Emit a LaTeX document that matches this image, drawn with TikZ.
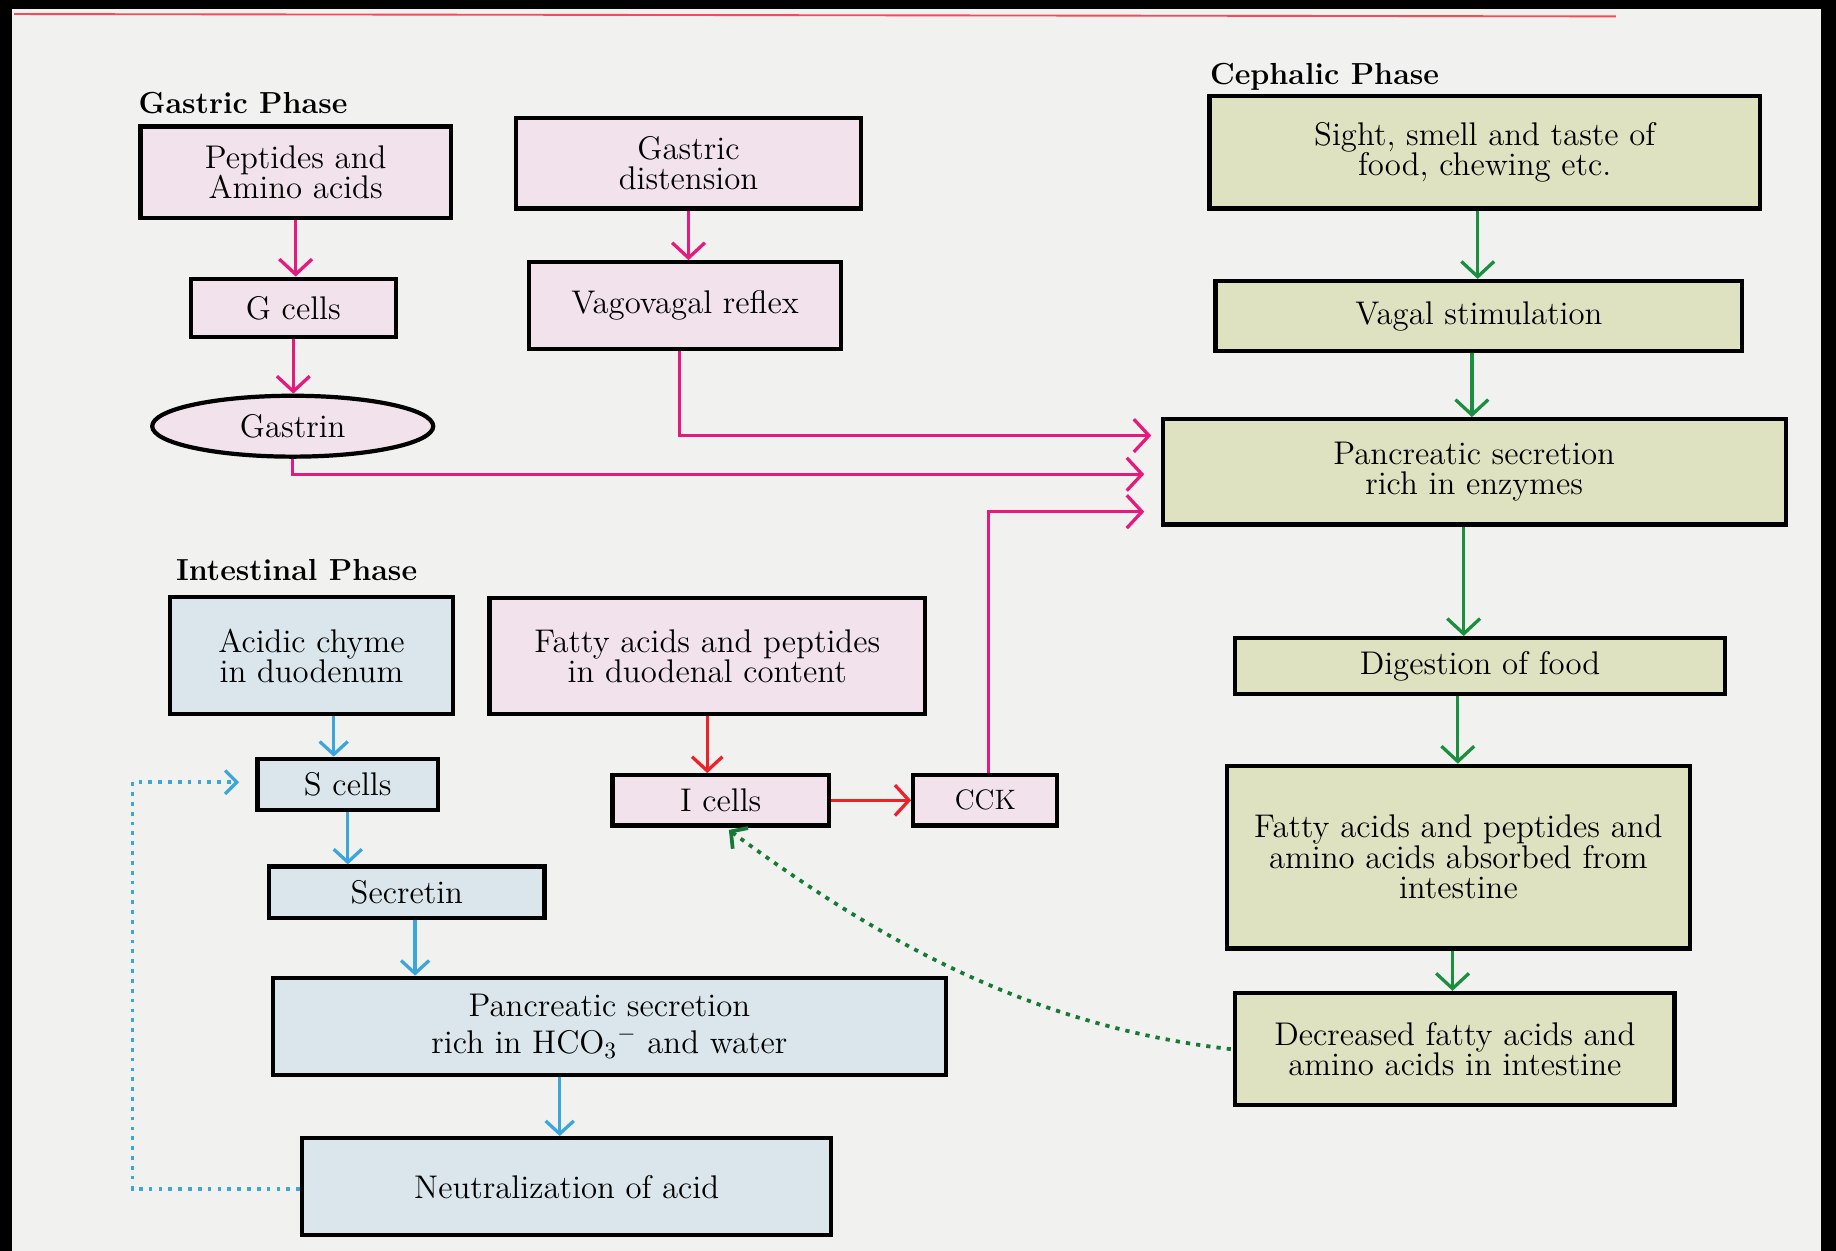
\documentclass[tikz,border=0pt]{standalone}
\usetikzlibrary{arrows.meta,calc,shapes.geometric}
\definecolor{pinkfill}{HTML}{F1E2EB}
\definecolor{greenfill}{HTML}{DFE2C0}
\definecolor{bluefill}{HTML}{DAE6EC}
\definecolor{pinkline}{HTML}{E8197D}
\definecolor{greenline}{HTML}{1A8F40}
\definecolor{blueline}{HTML}{3AA6DC}
\definecolor{redline}{HTML}{F0202A}
\definecolor{paper}{HTML}{F1F1F0}
\tikzset{
  box/.style={draw=black, line width=1.8pt, inner sep=2pt, align=center,
    font=\fontsize{14}{13}\selectfont},
  pinkbox/.style={box, fill=pinkfill},
  greenbox/.style={box, fill=greenfill},
  bluebox/.style={box, fill=bluefill},
  phase/.style={font=\fontsize{13}{13}\selectfont\bfseries, anchor=west, inner sep=0pt},
  parr/.style={draw=pinkline, line width=1.4pt, -{Straight Barb[length=6.5pt,width=14pt]}},
  garr/.style={draw=greenline, line width=1.4pt, -{Straight Barb[length=6.5pt,width=14pt]}},
  barr/.style={draw=blueline, line width=1.4pt, -{Straight Barb[length=5.5pt,width=12pt]}},
  rarr/.style={draw=redline, line width=1.4pt, -{Straight Barb[length=6pt,width=13pt]}},
  bdot/.style={draw=blueline, line width=1.5pt, dash pattern=on 1.6pt off 2.6pt,
    -{Straight Barb[length=5pt,width=10pt,line width=1.4pt,sep=0pt]}},
  gdot/.style={draw=greenline!85!black, line width=1.6pt, dash pattern=on 1.8pt off 2.6pt,
    -{Straight Barb[length=5pt,width=11pt,line width=1.6pt]}},
}
\begin{document}
\begin{tikzpicture}[x=0.5pt,y=-0.5pt]
\useasboundingbox (0,0) rectangle (1568,1068);
% paper and frame
\fill[paper] (0,0) rectangle (1568,1068);
\fill[black] (0,0) rectangle (1568,8);
\fill[black] (0,0) rectangle (10,1068);
\fill[black] (1555,0) rectangle (1568,1068);
\draw[redline!80, line width=0.8pt] (12,12) -- (1380,14);

% phase labels
\node[phase] (lgastric) at (118,88) {Gastric Phase};
\node[phase] (lceph) at (1033,66) {Cephalic Phase};
\node[phase] (lint) at (150,487) {Intestinal Phase};

% gastric phase
\node[pinkbox, minimum width=132.5pt, minimum height=39pt] (pep) at (252.5,147) {Peptides and\\Amino acids};
\node[pinkbox, minimum width=147pt, minimum height=38.5pt] (gdist) at (588,139.5) {Gastric\\distension};
\node[pinkbox, minimum width=87.5pt, minimum height=25pt] (gcells) at (250.5,263) {G cells};
\node[pinkbox, minimum width=133pt, minimum height=37pt] (vago) at (585,261) {Vagovagal reflex};
\node[box, ellipse, fill=pinkfill, minimum width=120pt, minimum height=26pt, inner sep=0pt] (gastrin) at (250,364) {Gastrin};

% cephalic phase
\node[greenbox, minimum width=235pt, minimum height=48pt] (sight) at (1268,130) {Sight, smell and taste of\\food, chewing etc.};
\node[greenbox, minimum width=225pt, minimum height=30pt] (vagal) at (1263,270) {Vagal stimulation};
\node[greenbox, minimum width=266pt, minimum height=45pt] (panc) at (1259,403) {Pancreatic secretion\\rich in enzymes};
\node[greenbox, minimum width=209pt, minimum height=24pt] (digest) at (1264,569) {Digestion of food};
\node[greenbox, minimum width=197.5pt, minimum height=78pt] (absorb) at (1245.5,732) {Fatty acids and peptides and\\amino acids absorbed from\\intestine};
\node[greenbox, minimum width=187.5pt, minimum height=48pt] (decr) at (1242.5,896) {Decreased fatty acids and\\amino acids in intestine};

% intestinal phase
\node[bluebox, minimum width=121pt, minimum height=50pt] (acidic) at (266,560) {Acidic chyme\\in duodenum};
\node[pinkbox, minimum width=186pt, minimum height=49.5pt] (fattyduo) at (604,560.5) {Fatty acids and peptides\\in duodenal content};
\node[bluebox, minimum width=77pt, minimum height=22pt] (scells) at (297,670) {S cells};
\node[pinkbox, minimum width=92.5pt, minimum height=21.5pt] (icells) at (615.5,683.5) {I cells};
\node[pinkbox, minimum width=61.5pt, minimum height=21.5pt, font=\fontsize{12}{12}\selectfont] (cck) at (841.5,683.5) {CCK};
\node[bluebox, minimum width=117.5pt, minimum height=22pt] (secretin) at (347.5,762) {Secretin};
\node[bluebox, minimum width=287.5pt, minimum height=41.5pt, font=\fontsize{14}{15.5}\selectfont] (hco) at (520.5,876.5) {Pancreatic secretion\\rich in HCO$_3{}^{-}$ and water};
\node[bluebox, minimum width=226pt, minimum height=41.5pt] (neut) at (484,1013.5) {Neutralization of acid};

% start points of vertical connectors
\coordinate (c1) at ($(sight.south)+(-6,0)$);
\coordinate (c2) at ($(vagal.south)+(-6,0)$);
\coordinate (c3) at ($(panc.south)+(-9,0)$);
\coordinate (c4) at ($(digest.south)+(-19,0)$);
\coordinate (c5) at ($(absorb.south)+(-5,0)$);
\coordinate (c6) at ($(acidic.south)+(19,0)$);
\coordinate (c7) at ($(secretin.south)+(7,0)$);
\coordinate (c8) at ($(neut.north)+(-6,0)$);
\coordinate (c9) at ($(vago.south)+(-5,0)$);
\coordinate (c10) at ($(cck.north)+(3,0)$);

% gastric arrows
\draw[parr] (pep.south) -- (pep.south |- gcells.north);
\draw[parr] (gcells.south) -- (gcells.south |- gastrin.north);
\draw[parr] (gdist.south) -- (gdist.south |- vago.north);
\draw[parr, shorten >=4pt] (c9) |- ($(panc.west)+(0,-31)$);
\draw[parr, shorten >=7pt] (gastrin.south) |- ($(panc.west)+(0,2)$);
\draw[parr, shorten >=7pt] (c10) |- ($(panc.west)+(0,34)$);

% cephalic arrows
\draw[garr] (c1) -- (c1 |- vagal.north);
\draw[garr] (c2) -- (c2 |- panc.north);
\draw[garr] (c3) -- (c3 |- digest.north);
\draw[garr] (c4) -- (c4 |- absorb.north);
\draw[garr] (c5) -- (c5 |- decr.north);

% intestinal arrows
\draw[barr] (c6) -- (c6 |- scells.north);
\draw[barr] (scells.south) -- (scells.south |- secretin.north);
\draw[barr] (c7) -- (c7 |- hco.north);
\draw[barr] (c8 |- hco.south) -- (c8);
\draw[bdot, shorten >=7pt] ($(neut.west)+(0,2)$) -- ++(-143,0) |- ($(scells.west)+(0,-2)$);
\draw[rarr] (fattyduo.south) -- (fattyduo.south |- icells.north);
\draw[rarr] (icells.east) -- (cck.west);
\draw[gdot] ($(decr.west)+(-2,0)$) .. controls (875,876) and (742,797) .. ($(icells.south)+(7,2)$);
\end{tikzpicture}
\end{document}
